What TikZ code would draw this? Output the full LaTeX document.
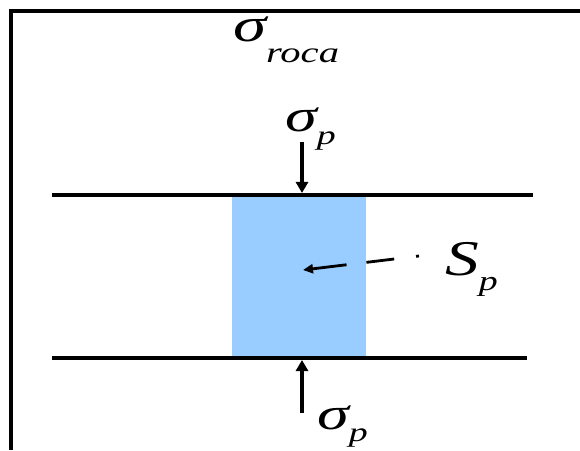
\documentclass[tikz,border=0pt]{standalone}
\usepackage{fontspec}
\setmainfont{Liberation Serif}
\usetikzlibrary{arrows.meta}
\definecolor{boxblue}{RGB}{153,204,255}
\newcommand{\bigsig}[1]{\fontsize{#1}{#1}\selectfont\itshape σ}
\tikzset{
  lbl/.style={inner sep=0pt, outer sep=0pt, anchor=base west},
  hline/.style={line width=3.2pt},
  force/.style={line width=3.4pt, -{Triangle[length=11pt,width=12pt]}},
  frameline/.style={line width=4pt}
}
\begin{document}
\begin{tikzpicture}[x=1pt,y=1pt]
\useasboundingbox (0,0) rectangle (580,450);
% frame
\coordinate (f1) at (11,0);
\coordinate (f2) at (11,439);
\coordinate (f3) at (580,439);
\draw[frameline] (f1) -- (f2) -- (f3);
% block
\fill[boxblue] (232,92) rectangle (366,255);
% horizontal lines
\coordinate (t1) at (52,255);
\coordinate (t2) at (533,255);
\coordinate (b1) at (52,92);
\coordinate (b2) at (527,92);
\draw[hline] (t1) -- (t2);
\draw[hline] (b1) -- (b2);
% labels
\node[lbl] (roca) at (233,408) {\scalebox{1.4}[1]{\bigsig{48}\raisebox{-21pt}{\fontsize{29}{29}\selectfont\itshape roca}}};
\node[lbl] (sptop) at (285,318) {\scalebox{1.4}[1]{\bigsig{46}\raisebox{-13pt}{\fontsize{27}{27}\selectfont\itshape p}}};
\node[lbl] (spbot) at (317,21) {\scalebox{1.4}[1]{\bigsig{46}\raisebox{-12pt}{\fontsize{27}{27}\selectfont\itshape p}}};
\node[lbl] (Sp) at (445,175) {\scalebox{1.35}[1]{\fontsize{50}{50}\selectfont\itshape S\raisebox{-15pt}{\fontsize{28}{28}\selectfont p}}};
% force arrows
\coordinate (a1s) at (302,308);
\coordinate (a1e) at (302,257);
\coordinate (a2s) at (302,37);
\coordinate (a2e) at (302,90);
\draw[force] (a1s) -- (a1e);
\draw[force] (a2s) -- (a2e);
% pointer from S_p
\coordinate (ps) at (419,194);
\coordinate (pe) at (303,180);
\draw[line width=2.8pt, dash pattern=on 3pt off 22pt on 28pt off 20pt on 60pt,
      -{Triangle[length=10pt,width=9pt]}] (ps) -- (pe);
\end{tikzpicture}
\end{document}
